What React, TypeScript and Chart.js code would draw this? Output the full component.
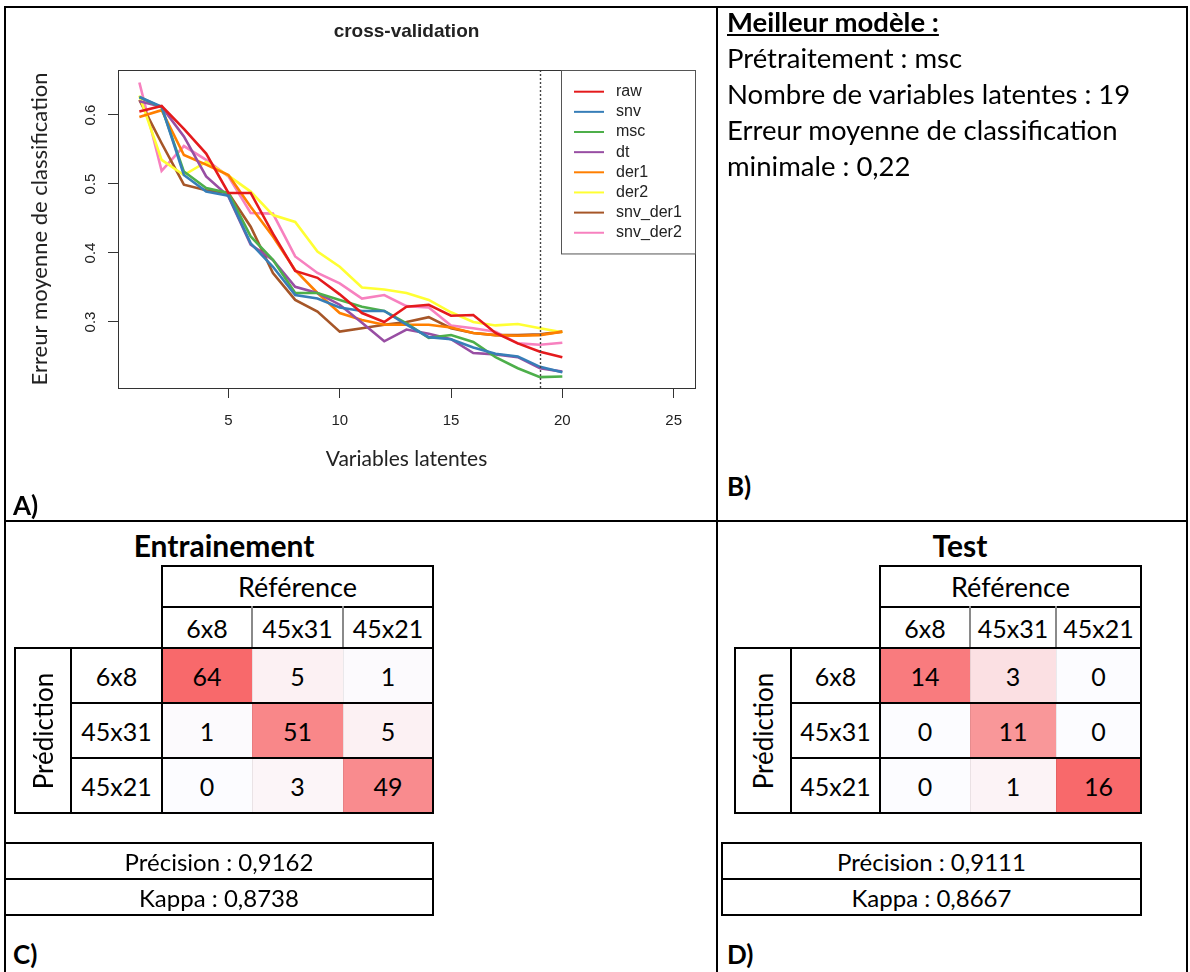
import React, { useEffect, useRef } from "react";
import { Chart, registerables } from "chart.js";

Chart.register(...registerables);

// ---------- data ----------
const latentVariables = [1, 2, 3, 4, 5, 6, 7, 8, 9, 10, 11, 12, 13, 14, 15, 16, 17, 18, 19, 20];
const seriesNames = ["raw", "snv", "msc", "dt", "der1", "der2", "snv_der1", "snv_der2"];
const seriesColors = ["#E41A1C", "#377EB8", "#4DAF4A", "#984EA3", "#FF7F00", "#FFFF33", "#A65628", "#F781BF"];
const raw = [0.605, 0.613, 0.580, 0.544, 0.487, 0.487, 0.428, 0.374, 0.364, 0.340, 0.313, 0.300, 0.322, 0.325, 0.309, 0.310, 0.284, 0.269, 0.257, 0.249];
const snv = [0.626, 0.612, 0.513, 0.489, 0.483, 0.414, 0.380, 0.339, 0.334, 0.321, 0.316, 0.316, 0.296, 0.278, 0.275, 0.263, 0.254, 0.250, 0.235, 0.227];
const msc = [0.626, 0.611, 0.518, 0.494, 0.487, 0.424, 0.390, 0.342, 0.342, 0.332, 0.322, 0.316, 0.298, 0.277, 0.281, 0.271, 0.249, 0.233, 0.220, 0.221];
const dt = [0.620, 0.612, 0.569, 0.511, 0.482, 0.412, 0.390, 0.351, 0.342, 0.325, 0.299, 0.272, 0.289, 0.283, 0.275, 0.255, 0.253, 0.249, 0.233, 0.228];
const der1 = [0.597, 0.607, 0.542, 0.528, 0.513, 0.467, 0.424, 0.375, 0.342, 0.313, 0.303, 0.296, 0.296, 0.296, 0.292, 0.284, 0.281, 0.280, 0.281, 0.286];
const der2 = [0.628, 0.535, 0.513, 0.532, 0.512, 0.489, 0.455, 0.445, 0.402, 0.380, 0.350, 0.347, 0.342, 0.332, 0.314, 0.300, 0.295, 0.297, 0.291, 0.285];
const snvDer1 = [0.622, 0.559, 0.499, 0.491, 0.487, 0.438, 0.371, 0.332, 0.315, 0.286, 0.291, 0.296, 0.300, 0.307, 0.291, 0.284, 0.281, 0.281, 0.282, 0.286];
const snvDer2 = [0.647, 0.519, 0.555, 0.535, 0.511, 0.458, 0.457, 0.395, 0.371, 0.356, 0.334, 0.339, 0.323, 0.321, 0.295, 0.291, 0.286, 0.269, 0.267, 0.270];
const seriesValues = [raw, snv, msc, dt, der1, der2, snvDer1, snvDer2];

const xTickValues = [5, 10, 15, 20, 25];
const yTickValues = [0.3, 0.4, 0.5, 0.6];
const xLimits = [0.04, 25.96];
const yLimits = [0.2043, 0.6652];
const bestLatent = 19;

const classLabels = ["6x8", "45x31", "45x21"];
const trainMatrix = [
  [64, 5, 1],
  [1, 51, 5],
  [0, 3, 49],
];
const testMatrix = [
  [14, 3, 0],
  [0, 11, 0],
  [0, 1, 16],
];
const trainStats = ["Précision : 0,9162", "Kappa : 0,8738"];
const testStats = ["Précision : 0,9111", "Kappa : 0,8667"];
const bestModelLines = [
  "Prétraitement : msc",
  "Nombre de variables latentes : 19",
  "Erreur moyenne de classification",
  "minimale : 0,22",
];

// ---------- helpers ----------
const CAL = "Lato, 'Noto Sans', sans-serif";

function heat(v: number, min: number, max: number) {
  const t = max === min ? 0 : (v - min) / (max - min);
  const lo = [252, 252, 255];
  const hi = [248, 105, 107];
  const c = lo.map((l, i) => Math.round(l + (hi[i] - l) * t));
  return `rgb(${c[0]},${c[1]},${c[2]})`;
}

function HL(key: string, x1: number, x2: number, y: number, w = 2, c = "#000") {
  return <div key={key} style={{ position: "absolute", left: x1 - w / 2, top: y - w / 2, width: x2 - x1 + w, height: w, background: c }} />;
}
function VL(key: string, x: number, y1: number, y2: number, w = 2, c = "#000") {
  return <div key={key} style={{ position: "absolute", left: x - w / 2, top: y1 - w / 2, width: w, height: y2 - y1 + w, background: c }} />;
}
function Txt(props: { x: number; y: number; w: number; h: number; text: string; size?: number; bold?: boolean; bg?: string; key?: string }) {
  return (
    <div
      style={{
        position: "absolute",
        left: props.x,
        top: props.y,
        width: props.w,
        height: props.h,
        background: props.bg || "transparent",
        display: "flex",
        alignItems: "center",
        justifyContent: "center",
        fontFamily: CAL,
        fontSize: props.size || 25,
        fontWeight: props.bold ? 700 : 400,
        color: "#000",
        whiteSpace: "nowrap",
      }}
    >
      {props.text}
    </div>
  );
}

const REF_TOP = 566;
const HDR_TOP = 607;
const BODY_TOP = 648;
const ROW_H = 55;
const STAT_TOP = 843;
const STAT_H = 36;

function ConfusionBlock(props: { cols: number[]; matrix: number[][]; title: string; titleX: number; stats: string[]; boxL: number; boxR: number }) {
  const { cols, matrix, title, titleX, stats, boxL, boxR } = props;
  const flat = matrix.flat();
  const mn = Math.min(...flat);
  const mx = Math.max(...flat);
  const bodyBottom = BODY_TOP + ROW_H * 3;
  const els: any[] = [];
  els.push(
    <div key="title" style={{ position: "absolute", left: titleX - 150, top: 527, width: 300, height: 36, display: "flex", alignItems: "center", justifyContent: "center", fontFamily: CAL, fontWeight: 700, fontSize: 30 }}>
      {title}
    </div>
  );
  matrix.forEach((row, i) =>
    row.forEach((v, j) => {
      els.push(<Txt key={`v${i}${j}`} x={cols[2 + j]} y={BODY_TOP + i * ROW_H} w={cols[3 + j] - cols[2 + j]} h={ROW_H} text={String(v)} bg={heat(v, mn, mx)} />);
    })
  );
  els.push(<Txt key="ref" x={cols[2]} y={REF_TOP} w={cols[5] - cols[2]} h={HDR_TOP - REF_TOP} text="Référence" size={27} />);
  classLabels.forEach((l, j) => {
    els.push(<Txt key={`h${j}`} x={cols[2 + j]} y={HDR_TOP} w={cols[3 + j] - cols[2 + j]} h={BODY_TOP - HDR_TOP} text={l} />);
    els.push(<Txt key={`r${j}`} x={cols[1]} y={BODY_TOP + j * ROW_H} w={cols[2] - cols[1]} h={ROW_H} text={l} />);
  });
  els.push(
    <div
      key="pred"
      style={{
        position: "absolute",
        left: (cols[0] + cols[1]) / 2,
        top: (BODY_TOP + bodyBottom) / 2,
        transform: "translate(-50%, -50%) rotate(-90deg)",
        fontFamily: CAL,
        fontSize: 26,
        whiteSpace: "nowrap",
      }}
    >
      Prédiction
    </div>
  );
  els.push(HL("l1", cols[2], cols[5], REF_TOP));
  els.push(HL("l2", cols[2], cols[5], HDR_TOP));
  els.push(VL("l3", cols[2], REF_TOP, bodyBottom));
  els.push(VL("l4", cols[5], REF_TOP, bodyBottom));
  els.push(VL("l5", cols[3], HDR_TOP, BODY_TOP, 1.5, "#8a8a8a"));
  els.push(VL("l6", cols[4], HDR_TOP, BODY_TOP, 1.5, "#8a8a8a"));
  els.push(VL("l5b", cols[3], BODY_TOP, bodyBottom, 1, "rgba(0,0,0,0.07)"));
  els.push(VL("l6b", cols[4], BODY_TOP, bodyBottom, 1, "rgba(0,0,0,0.07)"));
  els.push(HL("l7", cols[0], cols[5], BODY_TOP));
  els.push(HL("l8", cols[1], cols[5], BODY_TOP + ROW_H));
  els.push(HL("l9", cols[1], cols[5], BODY_TOP + 2 * ROW_H));
  els.push(HL("l10", cols[0], cols[5], bodyBottom));
  els.push(VL("l11", cols[0], BODY_TOP, bodyBottom));
  els.push(VL("l12", cols[1], BODY_TOP, bodyBottom));
  stats.forEach((s, i) => {
    els.push(<Txt key={`s${i}`} x={boxL} y={STAT_TOP + i * STAT_H} w={boxR - boxL} h={STAT_H} text={s} size={24} />);
  });
  els.push(HL("s1", boxL, boxR, STAT_TOP));
  els.push(HL("s2", boxL, boxR, STAT_TOP + STAT_H));
  els.push(HL("s3", boxL, boxR, STAT_TOP + 2 * STAT_H));
  els.push(VL("s4", boxL, STAT_TOP, STAT_TOP + 2 * STAT_H));
  els.push(VL("s5", boxR, STAT_TOP, STAT_TOP + 2 * STAT_H));
  return <>{els}</>;
}

// ---------- chart ----------
const decorPlugin = {
  id: "rDecor",
  afterDatasetsDraw(chart: any) {
    const { ctx, chartArea: a, scales } = chart;
    const px = scales.x.getPixelForValue(bestLatent);
    ctx.save();
    ctx.strokeStyle = "#444";
    ctx.lineWidth = 1.4;
    ctx.setLineDash([2, 2]);
    ctx.beginPath();
    ctx.moveTo(Math.round(px) + 0.5, a.top);
    ctx.lineTo(Math.round(px) + 0.5, a.bottom);
    ctx.stroke();
    ctx.restore();
  },
  afterDraw(chart: any) {
    const { ctx, chartArea: a, scales } = chart;
    ctx.save();
    ctx.strokeStyle = "#333";
    ctx.lineWidth = 1;
    ctx.strokeRect(a.left + 0.5, a.top + 0.5, a.right - a.left, a.bottom - a.top);
    ctx.fillStyle = "#222";
    ctx.font = "bold 19px 'Liberation Sans'";
    ctx.textAlign = "center";
    ctx.textBaseline = "middle";
    ctx.fillText("cross-validation", (a.left + a.right) / 2, 32);
    ctx.font = "15px 'Liberation Sans'";
    scales.y.ticks.forEach((t: any) => {
      const py = scales.y.getPixelForValue(t.value);
      ctx.save();
      ctx.translate(91, py);
      ctx.rotate(-Math.PI / 2);
      ctx.fillText(t.value.toFixed(1), 0, 0);
      ctx.restore();
    });
    ctx.font = `21px ${CAL}`;
    ctx.fillText("Variables latentes", (a.left + a.right) / 2, 459);
    ctx.save();
    ctx.translate(40, (a.top + a.bottom) / 2);
    ctx.rotate(-Math.PI / 2);
    ctx.font = `22px ${CAL}`;
    ctx.fillText("Erreur moyenne de classification", 0, 0);
    ctx.restore();
    // legend
    const n = chart.data.datasets.length;
    const rowH = 20.15;
    const first = 21.7;
    const w = 134;
    const left = a.right - w;
    ctx.strokeStyle = "#555";
    ctx.lineWidth = 1;
    ctx.strokeRect(left + 0.5, a.top + 0.5, w, first * 2 + rowH * (n - 1) - 1);
    ctx.textAlign = "left";
    ctx.font = "16px 'Liberation Sans'";
    chart.data.datasets.forEach((ds: any, i: number) => {
      const yy = a.top + first + i * rowH;
      ctx.strokeStyle = ds.borderColor;
      ctx.lineWidth = 2;
      ctx.beginPath();
      ctx.moveTo(left + 13, yy);
      ctx.lineTo(left + 43, yy);
      ctx.stroke();
      ctx.fillStyle = "#222";
      ctx.fillText(ds.label, left + 55, yy);
    });
    ctx.restore();
  },
};

function CrossValidationChart() {
  const ref = useRef<HTMLCanvasElement | null>(null);
  useEffect(() => {
    if (!ref.current) return;
    const chart = new Chart(ref.current, {
      type: "line",
      data: {
        datasets: seriesNames.map((name, k) => ({
          label: name,
          data: latentVariables.map((x, i) => ({ x, y: seriesValues[k][i] })),
          borderColor: seriesColors[k],
          backgroundColor: seriesColors[k],
          borderWidth: 2.6,
          pointRadius: 0,
          tension: 0,
          fill: false,
        })),
      },
      options: {
        animation: false,
        responsive: false,
        devicePixelRatio: 1,
        layout: { padding: { left: 0, top: 70, right: 22, bottom: 0 } },
        plugins: { legend: { display: false }, title: { display: false }, tooltip: { enabled: false } },
        scales: {
          x: {
            type: "linear",
            min: xLimits[0],
            max: xLimits[1],
            afterBuildTicks: (s: any) => {
              s.ticks = xTickValues.map((v) => ({ value: v }));
            },
            afterFit: (s: any) => {
              s.height = 112;
            },
            grid: { drawOnChartArea: false, drawTicks: true, tickLength: 10, color: "#333", lineWidth: 1 },
            border: { display: true, color: "#333", width: 1 },
            ticks: {
              autoSkip: false,
              maxRotation: 0,
              padding: 14,
              color: "#222",
              font: { family: "'Liberation Sans'", size: 15 },
              callback: (v: any) => String(v),
            },
          },
          y: {
            type: "linear",
            min: yLimits[0],
            max: yLimits[1],
            afterBuildTicks: (s: any) => {
              s.ticks = yTickValues.map((v) => ({ value: v }));
            },
            afterFit: (s: any) => {
              s.width = 118;
            },
            grid: { drawOnChartArea: false, drawTicks: true, tickLength: 10, color: "#333", lineWidth: 1 },
            border: { display: true, color: "#333", width: 1 },
            ticks: { display: false },
          },
        },
      } as any,
      plugins: [decorPlugin],
    });
    return () => chart.destroy();
  }, []);
  return <canvas ref={ref} width={717} height={500} style={{ position: "absolute", left: 0, top: 0, width: 717, height: 500 }} />;
}

export default function App() {
  return (
    <div style={{ position: "absolute", left: 0, top: 0, width: 1190, height: 972, background: "#fff", overflow: "hidden", fontFamily: CAL }}>
      <CrossValidationChart />
      {HL("f1", 5, 1187, 7)}
      {VL("f2", 5, 7, 972)}
      {VL("f3", 717, 7, 972)}
      {VL("f4", 1187, 7, 972)}
      {HL("f5", 5, 1187, 521)}
      <div style={{ position: "absolute", left: 727, top: 4, fontFamily: CAL, fontSize: 27.5, lineHeight: "36px", color: "#000" }}>
        <div style={{ fontWeight: 700, textDecoration: "underline" }}>Meilleur modèle :</div>
        {bestModelLines.map((l, i) => (
          <div key={i}>{l}</div>
        ))}
      </div>
      <div style={{ position: "absolute", left: 13, top: 489, fontFamily: CAL, fontWeight: 700, fontSize: 26 }}>A)</div>
      <div style={{ position: "absolute", left: 727, top: 470, fontFamily: CAL, fontWeight: 700, fontSize: 26 }}>B)</div>
      <div style={{ position: "absolute", left: 13, top: 938, fontFamily: CAL, fontWeight: 700, fontSize: 26 }}>C)</div>
      <div style={{ position: "absolute", left: 727, top: 938, fontFamily: CAL, fontWeight: 700, fontSize: 26 }}>D)</div>
      <ConfusionBlock cols={[15, 71, 162, 252, 343, 433]} matrix={trainMatrix} title="Entrainement" titleX={224} stats={trainStats} boxL={5} boxR={433} />
      <ConfusionBlock cols={[735, 791, 880, 970, 1056, 1141]} matrix={testMatrix} title="Test" titleX={960} stats={testStats} boxL={722} boxR={1141} />
    </div>
  );
}
